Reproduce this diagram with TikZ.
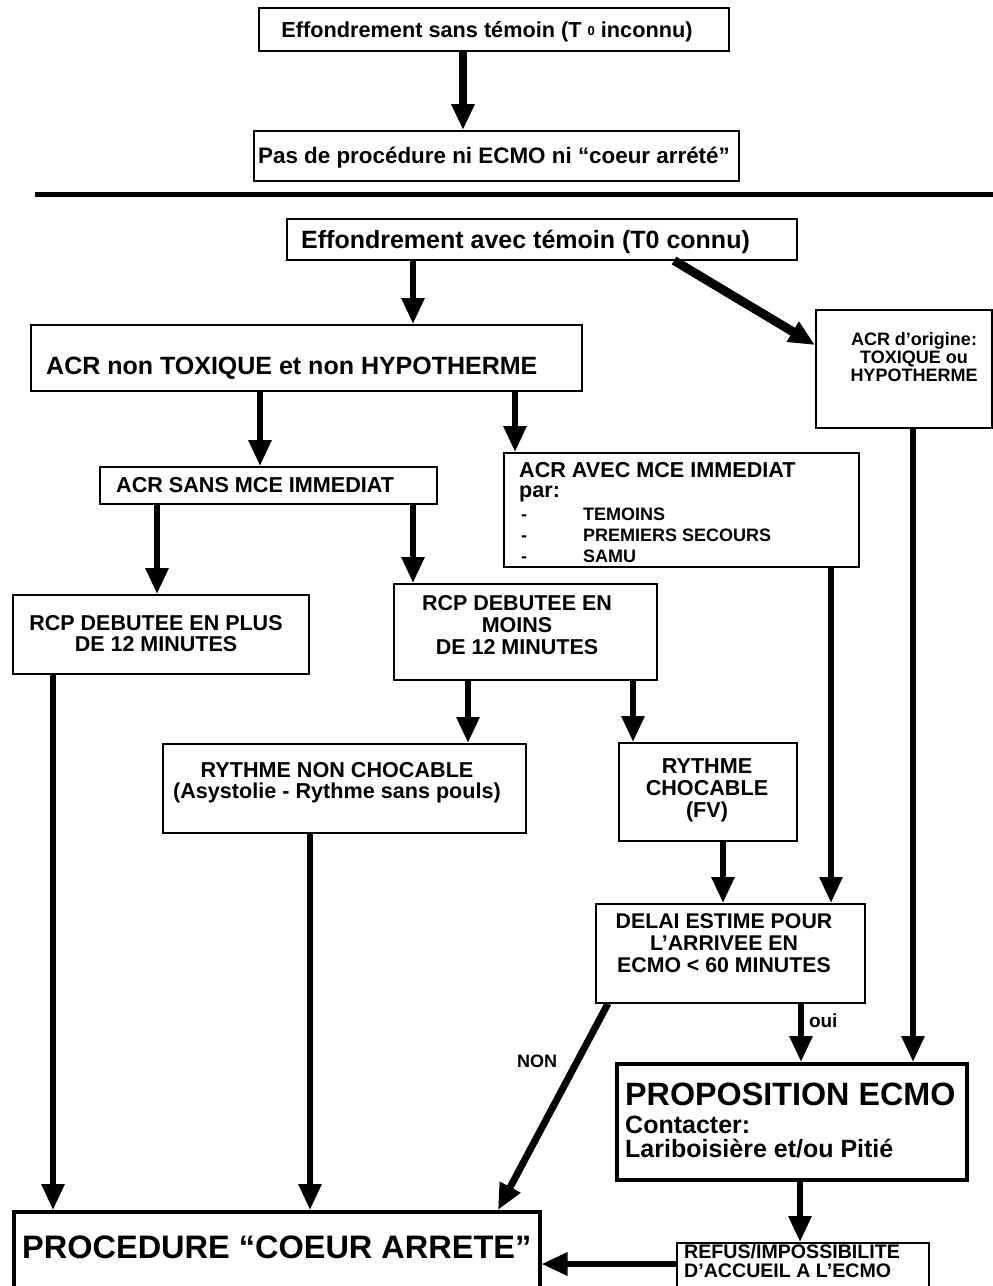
\documentclass[tikz,border=0pt]{standalone}
\usepackage{fontspec}
\setmainfont{Liberation Sans}
\usetikzlibrary{arrows.meta}
\newcommand\fsz[2]{\fontsize{#1pt}{#2pt}\selectfont}
\begin{document}
\begin{tikzpicture}[x=1pt,y=-1pt,
  box/.style={draw, line width=1.5pt, inner sep=0pt, anchor=north west},
  heavy/.style={box, line width=3.5pt},
  % text nodes: "base" of a multi-line node is the baseline of its last line
  txt/.style={inner sep=0pt, font=\bfseries, anchor=base west, align=left},
  ctxt/.style={inner sep=0pt, font=\bfseries, anchor=base, align=center},
  arr/.style={line width=6pt, -{Triangle[length=26pt,width=22pt]}},
]
\useasboundingbox (0,0) rectangle (993,1286);

% ---- unwitnessed collapse ----
\node[box, minimum width=470pt, minimum height=43pt] (b1) at (258,7) {};
\node[box, minimum width=485pt, minimum height=50pt] (b2) at (253,130) {};
\node[ctxt, font=\bfseries\fsz{21.7}{22}] (t1) at (487,37)
  {Effondrement sans témoin (T \raisebox{1.5pt}{\fsz{13}{13}0} inconnu)};
\node[ctxt, font=\bfseries\fsz{22.4}{23}] (t2) at (494,163)
  {Pas de procédure ni ECMO ni “coeur arrété”};
\draw[arr, line width=8pt] (b1.south -| 463,0) -- (b2.north -| 463,0);

% separator
\coordinate (ruleA) at (35,194);
\coordinate (ruleB) at (993,194);
\draw[line width=5pt] (ruleA) -- (ruleB);

% ---- witnessed collapse ----
\node[box, minimum width=510pt, minimum height=41pt] (b3) at (286,218) {};
\node[txt, font=\bfseries\fsz{25}{25}] (t3) at (301,248) {Effondrement avec témoin (T0 connu)};

\node[box, minimum width=551pt, minimum height=66pt] (acr) at (30,324) {};
\node[txt, font=\bfseries\fsz{25}{25}] (tacr) at (46,374) {ACR non TOXIQUE et non HYPOTHERME};

\node[box, minimum width=176pt, minimum height=118pt] (orig) at (815,309) {};
\node[ctxt, font=\bfseries\fsz{18}{18}] (torig) at (914,381) {ACR d’origine:\\TOXIQUE ou\\HYPOTHERME};

\node[box, minimum width=337pt, minimum height=37pt] (sans) at (99,466) {};
\node[txt, font=\bfseries\fsz{21.6}{22}] (tsans) at (116,492) {ACR SANS MCE IMMEDIAT};

\node[box, minimum width=355pt, minimum height=114pt] (avec) at (503,452) {};
\node[txt, font=\bfseries\fsz{21.6}{20}] (tavec) at (519,497) {ACR AVEC MCE IMMEDIAT\\par:};
\node[txt, font=\bfseries\fsz{18}{21}] (tliste) at (521,562)
  {\makebox[62pt][l]{-}TEMOINS\\\makebox[62pt][l]{-}PREMIERS SECOURS\\\makebox[62pt][l]{-}SAMU};

\node[box, minimum width=296pt, minimum height=79pt] (plus) at (12,594) {};
\node[ctxt, font=\bfseries\fsz{21.5}{21}] (tplus) at (156,651) {RCP DEBUTEE EN PLUS\\DE 12 MINUTES};

\node[box, minimum width=263pt, minimum height=96pt] (moins) at (393,583) {};
\node[ctxt, font=\bfseries\fsz{21.5}{22}] (tmoins) at (517,654) {RCP DEBUTEE EN\\MOINS\\DE 12 MINUTES};

\node[box, minimum width=363pt, minimum height=89pt] (rnon) at (162,743) {};
\node[ctxt, font=\bfseries\fsz{21.6}{21}] (trnon) at (337,798)
  {RYTHME NON CHOCABLE\\(Asystolie - Rythme sans pouls)};

\node[box, minimum width=178pt, minimum height=98pt] (rchoc) at (618,742) {};
\node[ctxt, font=\bfseries\fsz{21.6}{22}] (trchoc) at (707,817) {RYTHME\\CHOCABLE\\(FV)};

\node[box, minimum width=269pt, minimum height=99pt] (delai) at (595,903) {};
\node[ctxt, font=\bfseries\fsz{21.3}{22}] (tdelai) at (724,972)
  {DELAI ESTIME POUR\\L’ARRIVEE EN\\ECMO < 60 MINUTES};

\node[box, line width=4pt, minimum width=350pt, minimum height=116pt] (prop) at (615,1062) {};
\node[txt, font=\bfseries\fsz{32.3}{32}] (tprop) at (625,1105) {PROPOSITION ECMO};
\node[txt, font=\bfseries\fsz{25}{24}] (tcontact) at (625,1157) {Contacter:\\Lariboisière et/ou Pitié};

\node[heavy, minimum width=526pt, minimum height=82pt] (proc) at (12,1210) {};
\node[txt, font=\bfseries\fsz{32.5}{33}] (tproc) at (22,1258) {PROCEDURE “COEUR ARRETE”};

\node[box, line width=2pt, minimum width=252pt, minimum height=48pt] (refus) at (676,1242) {};
\node[txt, font=\bfseries\fsz{19.6}{19}] (trefus) at (684,1277) {REFUS/IMPOSSIBILITE\\D’ACCUEIL A L’ECMO};

% ---- connectors ----
\draw[arr] (b3.south -| 413,0) -- (acr.north -| 413,0);
\draw[arr, line width=9pt] (b3.south -| 674,0) -- (orig.west |- 0,345);
\draw[arr] (acr.south -| 260,0) -- (sans.north -| 260,0);
\draw[arr] (acr.south -| 515,0) -- (avec.north -| 515,0);
\draw[arr] (sans.south -| 157,0) -- (plus.north -| 157,0);
\draw[arr] (sans.south -| 413,0) -- (moins.north -| 413,0);
\draw[arr] (moins.south -| 468,0) -- (rnon.north -| 468,0);
\draw[arr] (moins.south -| 633,0) -- (rchoc.north -| 633,0);
\draw[arr] (rchoc.south -| 723,0) -- (delai.north -| 723,0);
\draw[arr] (avec.south -| 831,0) -- (delai.north -| 831,0);
\draw[arr] (orig.south -| 913,0) -- (prop.north -| 913,0);
\draw[arr] (delai.south -| 801,0) -- (prop.north -| 801,0)
  node[pos=0.3, right=5pt, inner sep=0pt, font=\bfseries\fsz{19}{19}] (oui) {oui};
\draw[arr, line width=7pt] (delai.south -| 608,0) -- (proc.north -| 498,0);
\node[txt, font=\bfseries\fsz{18}{18}] (non) at (517,1067) {NON};
\draw[arr] (plus.south -| 53,0) -- (proc.north -| 53,0);
\draw[arr] (rnon.south -| 310,0) -- (proc.north -| 310,0);
\draw[arr] (prop.south -| 800,0) -- (refus.north -| 800,0);
\draw[arr] (refus.west |- 0,1264) -- (proc.east |- 0,1264);
\end{tikzpicture}
\end{document}
